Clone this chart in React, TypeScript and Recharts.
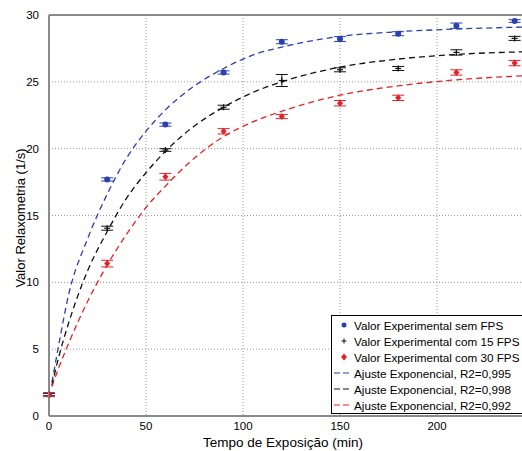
import { ComposedChart, Line, Scatter, XAxis, YAxis, CartesianGrid, ErrorBar, ReferenceLine } from "recharts";

const times = [0, 30, 60, 90, 120, 150, 180, 210, 240];
const semFps = [1.6, 17.7, 21.8, 25.7, 28.0, 28.2, 28.6, 29.2, 29.55];
const semFpsErr = [0.1, 0.12, 0.12, 0.12, 0.15, 0.18, 0.15, 0.2, 0.1];
const com15 = [1.6, 14.05, 19.9, 23.1, 25.1, 25.9, 26.0, 27.2, 28.25];
const com15Err = [0.1, 0.15, 0.1, 0.15, 0.45, 0.15, 0.15, 0.2, 0.15];
const com30 = [1.6, 11.4, 17.9, 21.3, 22.4, 23.4, 23.8, 25.7, 26.4];
const com30Err = [0.15, 0.25, 0.25, 0.2, 0.15, 0.2, 0.2, 0.2, 0.2];

const fitX = [1.5, 5, 10, 20, 30, 40, 50, 60, 75, 90, 105, 120, 150, 180, 210, 245];
const fitSem = [2.5, 5.3, 9.0, 13.3, 16.6, 19.3, 21.3, 22.9, 24.7, 26.0, 27.0, 27.6, 28.4, 28.75, 28.95, 29.1];
const fit15 = [2.3, 4.4, 6.9, 10.9, 13.8, 16.3, 18.2, 19.8, 21.7, 23.1, 24.2, 25.0, 26.1, 26.7, 27.05, 27.25];
const fit30 = [2.2, 3.6, 5.4, 8.6, 11.3, 13.6, 15.6, 17.2, 19.3, 20.9, 22.0, 22.8, 24.0, 24.7, 25.15, 25.45];

const xTicks = [0, 50, 100, 150, 200];
const yTicks = [0, 5, 10, 15, 20, 25, 30];

const BLUE = "#2b40b0";
const BLACK = "#111111";
const RED = "#e52228";
const FONT = "'Liberation Sans', Arial, sans-serif";

const points = (ys: number[], errs: number[]) => times.map((t, i) => ({ t, v: ys[i], err: errs[i] }));
const curve = (ys: number[]) => fitX.map((t, i) => ({ t, v: ys[i] }));

const dot = (props: any) => <circle cx={props.cx} cy={props.cy} r={3} fill={BLUE} />;
const plus = (props: any) => (
  <g stroke={BLACK} strokeWidth={1.2}>
    <line x1={props.cx - 3} x2={props.cx + 3} y1={props.cy} y2={props.cy} />
    <line x1={props.cx} x2={props.cx} y1={props.cy - 3} y2={props.cy + 3} />
  </g>
);
const diamond = (props: any) => (
  <path d={`M${props.cx},${props.cy - 3.5}L${props.cx + 3},${props.cy}L${props.cx},${props.cy + 3.5}L${props.cx - 3},${props.cy}Z`} fill={RED} />
);

const legendRows = [
  { kind: "dot", color: BLUE, text: "Valor Experimental sem FPS" },
  { kind: "plus", color: BLACK, text: "Valor Experimental com 15 FPS" },
  { kind: "diamond", color: RED, text: "Valor Experimental com 30 FPS" },
  { kind: "line", color: BLUE, text: "Ajuste Exponencial, R2=0,995" },
  { kind: "line", color: BLACK, text: "Ajuste Exponencial, R2=0,998" },
  { kind: "line", color: RED, text: "Ajuste Exponencial, R2=0,992" },
];

function LegendBox() {
  return (
    <div style={{ position: "absolute", left: 331, top: 315, width: 210, height: 99, background: "#fff", border: "1px solid #000", fontFamily: FONT, fontSize: 11.7, color: "#000", boxSizing: "border-box", paddingTop: 1 }}>
      {legendRows.map((r) => (
        <div key={r.text} style={{ height: 16, display: "flex", alignItems: "center", whiteSpace: "nowrap" }}>
          <svg width={22} height={16} style={{ flex: "none" }}>
            {r.kind === "line" && <line x1={2} x2={19} y1={8} y2={8} stroke={r.color} strokeWidth={1.2} strokeDasharray="6 3" />}
            {r.kind === "dot" && <circle cx={12} cy={8} r={2.5} fill={r.color} />}
            {r.kind === "plus" && (
              <g stroke={r.color} strokeWidth={1}>
                <line x1={9.5} x2={14.5} y1={8} y2={8} />
                <line x1={12} x2={12} y1={5.5} y2={10.5} />
              </g>
            )}
            {r.kind === "diamond" && <path d="M12,4.5L15,8L12,11.5L9,8Z" fill={r.color} />}
          </svg>
          <span>{r.text}</span>
        </div>
      ))}
    </div>
  );
}

export default function App() {
  return (
    <div style={{ position: "absolute", left: 0, top: 0, width: 522, height: 451, overflow: "hidden", background: "#fff" }}>
      <ComposedChart width={540} height={451} margin={{ top: 15, right: 6, bottom: 0, left: 0 }}>
        <CartesianGrid stroke="#9a9a9a" strokeDasharray="1 2" verticalValues={xTicks} horizontalValues={yTicks} />
        <XAxis
          type="number"
          dataKey="t"
          domain={[0, 250]}
          ticks={xTicks}
          allowDataOverflow
          height={35}
          stroke="#8a8a8a"
          strokeWidth={2}
          tickLine={false}
          tick={{ fill: "#000", fontSize: 11.5, fontFamily: FONT }}
          tickMargin={0}
          label={() => (
            <text x={283} y={447} textAnchor="middle" fontSize={13.5} fontFamily={FONT} fill="#000">
              Tempo de Exposição (min)
            </text>
          )}
        />
        <YAxis
          type="number"
          domain={[0, 30]}
          ticks={yTicks}
          width={49}
          stroke="#8a8a8a"
          strokeWidth={2}
          tickLine={false}
          tick={{ fill: "#000", fontSize: 11.5, fontFamily: FONT }}
          tickMargin={4}
          label={() => (
            <text x={22} y={218} transform="rotate(-90 22 218)" textAnchor="middle" dominantBaseline="middle" fontSize={13} fontFamily={FONT} fill="#000">
              Valor Relaxometria (1/s)
            </text>
          )}
        />
        <ReferenceLine y={30} stroke="#8a8a8a" strokeWidth={2} />
        <Line data={curve(fitSem)} dataKey="v" type="monotone" stroke={BLUE} strokeWidth={1.3} strokeDasharray="6 4" dot={false} isAnimationActive={false} />
        <Line data={curve(fit15)} dataKey="v" type="monotone" stroke={BLACK} strokeWidth={1.3} strokeDasharray="6 4" dot={false} isAnimationActive={false} />
        <Line data={curve(fit30)} dataKey="v" type="monotone" stroke={RED} strokeWidth={1.3} strokeDasharray="6 4" dot={false} isAnimationActive={false} />
        <Scatter data={points(semFps, semFpsErr)} dataKey="v" shape={dot} isAnimationActive={false}>
          <ErrorBar dataKey="err" direction="y" width={6} stroke={BLUE} strokeWidth={1} isAnimationActive={false} />
        </Scatter>
        <Scatter data={points(com15, com15Err)} dataKey="v" shape={plus} isAnimationActive={false}>
          <ErrorBar dataKey="err" direction="y" width={6} stroke={BLACK} strokeWidth={1} isAnimationActive={false} />
        </Scatter>
        <Scatter data={points(com30, com30Err)} dataKey="v" shape={diamond} isAnimationActive={false}>
          <ErrorBar dataKey="err" direction="y" width={6} stroke={RED} strokeWidth={1} isAnimationActive={false} />
        </Scatter>
      </ComposedChart>
      <LegendBox />
    </div>
  );
}
